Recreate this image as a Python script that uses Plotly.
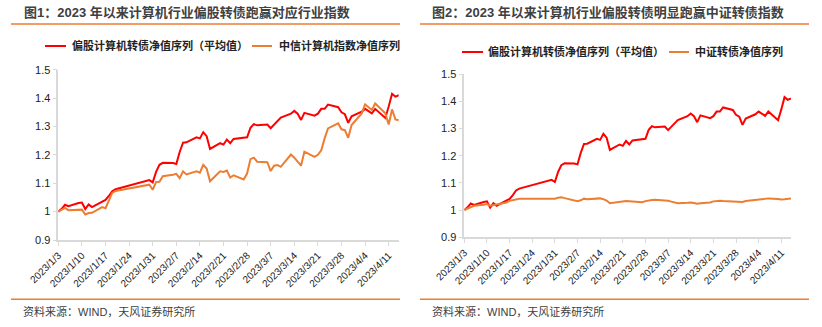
import plotly.graph_objects as go

# ---------------- data ----------------
dates = [
    "2023-01-03", "2023-01-04", "2023-01-05", "2023-01-06",
    "2023-01-09", "2023-01-10", "2023-01-11", "2023-01-12", "2023-01-13",
    "2023-01-16", "2023-01-17", "2023-01-18", "2023-01-19", "2023-01-20",
    "2023-01-30", "2023-01-31",
    "2023-02-01", "2023-02-02", "2023-02-03",
    "2023-02-06", "2023-02-07", "2023-02-08", "2023-02-09", "2023-02-10",
    "2023-02-13", "2023-02-14", "2023-02-15", "2023-02-16", "2023-02-17",
    "2023-02-20", "2023-02-21", "2023-02-22", "2023-02-23", "2023-02-24",
    "2023-02-27", "2023-02-28",
    "2023-03-01", "2023-03-02", "2023-03-03",
    "2023-03-06", "2023-03-07", "2023-03-08", "2023-03-09", "2023-03-10",
    "2023-03-13", "2023-03-14", "2023-03-15", "2023-03-16", "2023-03-17",
    "2023-03-20", "2023-03-21", "2023-03-22", "2023-03-23", "2023-03-24",
    "2023-03-27", "2023-03-28", "2023-03-29", "2023-03-30", "2023-03-31",
    "2023-04-03", "2023-04-04",
    "2023-04-06", "2023-04-07",
    "2023-04-10", "2023-04-11", "2023-04-12", "2023-04-13", "2023-04-14",
]

cb_computer_avg = [
    1.000, 1.010, 1.024, 1.019,
    1.030, 1.032, 1.009, 1.025, 1.016,
    1.033, 1.041, 1.055, 1.072, 1.079,
    1.111, 1.103,
    1.140, 1.165, 1.172,
    1.171, 1.168, 1.210, 1.243, 1.244,
    1.262, 1.258, 1.280, 1.266, 1.221,
    1.241, 1.236, 1.254, 1.241, 1.256,
    1.260, 1.262,
    1.295, 1.308, 1.304,
    1.307, 1.294, 1.306, 1.316, 1.331,
    1.345, 1.355, 1.345, 1.323, 1.348,
    1.338, 1.345, 1.362, 1.362, 1.377,
    1.368, 1.350, 1.343, 1.313, 1.336,
    1.352, 1.362,
    1.346, 1.362,
    1.330, 1.370, 1.415, 1.405, 1.410,
]

citic_computer_index = [
    1.000, 1.007, 1.013, 1.005,
    1.005, 1.007, 0.990, 0.995, 0.996,
    1.016, 1.012, 1.040, 1.066, 1.073,
    1.095, 1.077,
    1.104, 1.105, 1.125,
    1.130, 1.133, 1.118, 1.142, 1.131,
    1.142, 1.137, 1.165, 1.152, 1.107,
    1.142, 1.140, 1.145, 1.120, 1.128,
    1.113, 1.134,
    1.185, 1.190, 1.176,
    1.174, 1.143, 1.162, 1.164, 1.158,
    1.201, 1.190, 1.175, 1.162, 1.211,
    1.193, 1.200, 1.216, 1.258, 1.293,
    1.311, 1.290, 1.287, 1.260, 1.305,
    1.346, 1.378,
    1.358, 1.381,
    1.346, 1.307, 1.360, 1.325, 1.322,
]

csi_cb_index = [
    1.000, 1.006, 1.013, 1.016,
    1.020, 1.022, 1.016, 1.018, 1.020,
    1.028, 1.034, 1.037, 1.040, 1.042,
    1.042, 1.042,
    1.045, 1.047, 1.044,
    1.035, 1.033, 1.036, 1.042, 1.040,
    1.042, 1.043, 1.040, 1.035, 1.025,
    1.030, 1.031, 1.033, 1.032, 1.031,
    1.029, 1.033,
    1.036, 1.037, 1.038,
    1.036, 1.034, 1.031, 1.027, 1.025,
    1.027, 1.028, 1.026, 1.023, 1.025,
    1.028, 1.032, 1.034, 1.034, 1.033,
    1.031, 1.030, 1.028, 1.030, 1.033,
    1.037, 1.039,
    1.040, 1.043,
    1.041, 1.039, 1.040, 1.041, 1.043,
]

title_left = "图1：2023 年以来计算机行业偏股转债跑赢对应行业指数"
title_right = "图2：2023 年以来计算机行业偏股转债明显跑赢中证转债指数"
name_red = "偏股计算机转债净值序列（平均值）"
name_citic = "中信计算机指数净值序列"
name_csi = "中证转债净值序列"
source_text = "资料来源：WIND，天风证券研究所"

# ---------------- styling ----------------
W, H = 822, 327
RED = "#FF0000"
ORANGE = "#ED7D31"
AXIS_GRAY = "#D9D9D9"
TEXT = "#404040"
FONT = "Arial, 'Liberation Sans', 'Noto Sans CJK SC', sans-serif"


def px_x(x):
    return x / W


def px_y(y):
    return 1 - y / H


fig = go.Figure()
fig.add_trace(go.Scatter(x=dates, y=cb_computer_avg, mode="lines", name=name_red,
                         line=dict(color=RED, width=2), xaxis="x", yaxis="y", showlegend=False))
fig.add_trace(go.Scatter(x=dates, y=citic_computer_index, mode="lines", name=name_citic,
                         line=dict(color=ORANGE, width=2), xaxis="x", yaxis="y", showlegend=False))
fig.add_trace(go.Scatter(x=dates, y=cb_computer_avg, mode="lines", name=name_red,
                         line=dict(color=RED, width=2), xaxis="x2", yaxis="y2", showlegend=False))
fig.add_trace(go.Scatter(x=dates, y=csi_cb_index, mode="lines", name=name_csi,
                         line=dict(color=ORANGE, width=2), xaxis="x2", yaxis="y2", showlegend=False))

xcommon = dict(
    type="date", range=["2023-01-03", "2023-04-14"], tick0="2023-01-03",
    dtick=7 * 86400000, tickformat="%Y/%-m/%-d", tickangle=-45,
    showline=True, linecolor=AXIS_GRAY, linewidth=1.5,
    ticks="outside", ticklen=4, tickcolor=AXIS_GRAY,
    showgrid=False, zeroline=False, automargin=False,
    tickfont=dict(size=10, color="#222", family=FONT),
)
ycommon = dict(
    range=[0.9, 1.5], dtick=0.1, tick0=0.9,
    showline=True, linecolor=AXIS_GRAY, linewidth=1.5,
    ticks="outside", ticklen=4, tickcolor=AXIS_GRAY,
    showgrid=False, zeroline=False, automargin=False,
    tickfont=dict(size=11, color="#222", family=FONT),
)

fig.update_layout(
    width=W, height=H,
    margin=dict(l=0, r=0, t=0, b=0),
    paper_bgcolor="white", plot_bgcolor="white",
    font=dict(family=FONT, color=TEXT),
    xaxis=dict(domain=[px_x(58.3), px_x(398.8)], anchor="y", **xcommon),
    yaxis=dict(domain=[px_y(240), px_y(69.7)], anchor="x", **ycommon),
    xaxis2=dict(domain=[px_x(464.3), px_x(791)], anchor="y2", **xcommon),
    yaxis2=dict(domain=[px_y(237.3), px_y(74)], anchor="x2", **ycommon),
)

shapes = []
annotations = []

# Titles, separator lines, sources
for (tx, title, lx0, lx1, sx) in [(21.5, title_left, 11, 400, 20.5),
                                    (430, title_right, 420, 809, 429.5)]:
    annotations.append(dict(text="<b>" + title + "</b>", x=px_x(tx), y=px_y(12.5),
                            xref="paper", yref="paper", xanchor="left", yanchor="middle",
                            showarrow=False, font=dict(size=13, color=TEXT, family=FONT)))
    shapes.append(dict(type="line", xref="paper", yref="paper",
                       x0=px_x(lx0), x1=px_x(lx1), y0=px_y(24), y1=px_y(24),
                       line=dict(color=ORANGE, width=1.5)))
    shapes.append(dict(type="line", xref="paper", yref="paper",
                       x0=px_x(lx0), x1=px_x(lx1), y0=px_y(299.3), y1=px_y(299.3),
                       line=dict(color=ORANGE, width=1.5)))
    annotations.append(dict(text=source_text, x=px_x(sx), y=px_y(311.5),
                            xref="paper", yref="paper", xanchor="left", yanchor="middle",
                            showarrow=False, font=dict(size=11, color=TEXT, family=FONT)))

# Legends (manual)
legend_items = [
    (45, 66, 70, 46, RED, name_red),
    (252, 272, 277, 46, ORANGE, name_citic),
    (462, 483, 486, 52, RED, name_red),
    (669, 689, 693, 52, ORANGE, name_csi),
]
for (x0, x1, tx, ly, col, label) in legend_items:
    shapes.append(dict(type="line", xref="paper", yref="paper",
                       x0=px_x(x0), x1=px_x(x1), y0=px_y(ly), y1=px_y(ly),
                       line=dict(color=col, width=2)))
    annotations.append(dict(text="<b>" + label + "</b>", x=px_x(tx), y=px_y(ly),
                            xref="paper", yref="paper", xanchor="left", yanchor="middle",
                            showarrow=False, font=dict(size=11, color="#222", family=FONT)))

fig.update_layout(shapes=shapes, annotations=annotations)

fig.write_html("out.html")
